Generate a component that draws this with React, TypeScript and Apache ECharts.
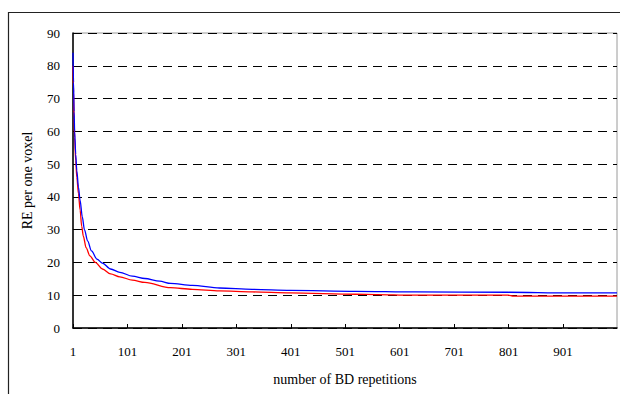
import React, { useEffect, useRef } from "react";
import * as echarts from "echarts";

// Number of BD repetitions (x) and RE per one voxel (y)
const blueX = [1, 2, 3, 4, 6, 8, 11, 14, 18, 22, 28, 35, 45, 55, 70, 87, 110, 133, 160, 180, 220, 270, 330, 400, 520, 630, 800, 910, 1000];
const blueY = [84, 75, 66, 60, 53, 48, 43, 39, 34, 30, 26.5, 23.5, 21, 19.8, 18, 17, 15.8, 15.1, 14.3, 13.6, 13, 12.2, 11.8, 11.5, 11.2, 11.0, 10.9, 10.7, 10.7];

const redX = [1, 2, 3, 4, 6, 8, 11, 14, 17, 20, 25, 32, 42, 55, 70, 87, 110, 133, 180, 220, 270, 330, 400, 520, 560, 620, 800, 810, 1000];
const redY = [80, 72, 64, 58, 51, 46, 41, 36, 31, 28, 24.5, 22, 20, 18, 16.5, 15.6, 14.6, 13.9, 12.3, 11.8, 11.3, 11.0, 10.7, 10.3, 10.2, 10.0, 10.0, 9.7, 9.7];

const xTickValues = [1, 101, 201, 301, 401, 501, 601, 701, 801, 901];
const xMin = 1;
const xMax = 1000;
const yMin = 0;
const yMax = 90;
const yStep = 10;

const FONT = "Liberation Serif";

export default function App() {
  const ref = useRef<HTMLDivElement>(null);

  useEffect(() => {
    if (!ref.current) return;
    const chart = echarts.init(ref.current, undefined, { renderer: "svg" });
    const pairs = (xs: number[], ys: number[]) => xs.map((x, i) => [x, ys[i]]);
    chart.setOption({
      animation: false,
      backgroundColor: "#ffffff",
      textStyle: { fontFamily: FONT },
      graphic: [
        {
          type: "rect",
          shape: { x: 8.5, y: 12.5, width: 640, height: 420 },
          style: { fill: "none", stroke: "#222", lineWidth: 1.2 },
          silent: true,
          z: -10,
        },
      ],
      grid: {
        left: 73,
        top: 33,
        right: 3,
        bottom: 66,
        show: true,
        borderColor: "#9a9a9a",
        borderWidth: 1,
        backgroundColor: "transparent",
      },
      xAxis: {
        type: "value",
        min: xMin,
        max: xMax,
        name: "number of BD repetitions",
        nameLocation: "middle",
        nameGap: 44,
        nameTextStyle: { fontFamily: FONT, fontSize: 14, color: "#000" },
        axisLine: { show: true, lineStyle: { color: "#000", width: 1.5 } },
        axisTick: {
          show: true,
          inside: true,
          length: 4,
          customValues: xTickValues,
          lineStyle: { color: "#000", width: 1 },
        },
        axisLabel: {
          customValues: xTickValues,
          margin: 17,
          fontFamily: FONT,
          fontSize: 13,
          color: "#000",
        },
        splitLine: { show: false },
      },
      yAxis: {
        type: "value",
        min: yMin,
        max: yMax,
        interval: yStep,
        name: "RE per one voxel",
        nameLocation: "middle",
        nameGap: 39,
        nameTextStyle: { fontFamily: FONT, fontSize: 14, color: "#000" },
        axisLine: { show: true, lineStyle: { color: "#000", width: 1.5 } },
        axisTick: { show: false },
        axisLabel: { margin: 13, fontFamily: FONT, fontSize: 13, color: "#000" },
        splitLine: {
          show: true,
          lineStyle: { color: "#000", type: [9, 6], width: 1 },
        },
      },
      series: [
        {
          type: "line",
          data: pairs(blueX, blueY),
          smooth: 0.3,
          smoothMonotone: "x",
          showSymbol: false,
          lineStyle: { color: "#0000ff", width: 1.3 },
          itemStyle: { color: "#0000ff" },
          z: 3,
        },
        {
          type: "line",
          data: pairs(redX, redY),
          smooth: 0.3,
          smoothMonotone: "x",
          showSymbol: false,
          lineStyle: { color: "#ff0000", width: 1.3 },
          itemStyle: { color: "#ff0000" },
          z: 2,
        },
      ],
    });
    return () => chart.dispose();
  }, []);

  return (
    <div
      ref={ref}
      style={{ position: "fixed", left: 0, top: 0, width: 620, height: 394 }}
    />
  );
}
